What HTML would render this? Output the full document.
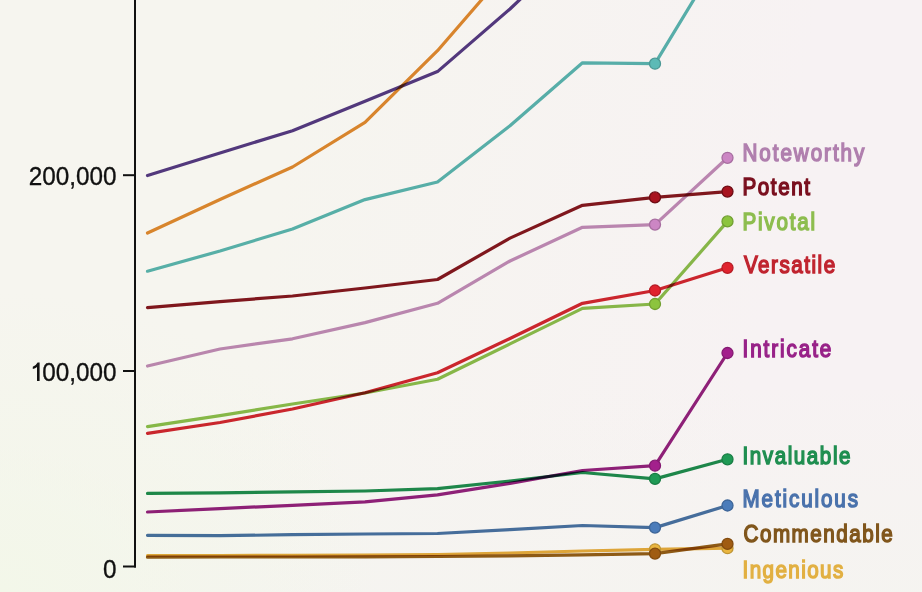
<!DOCTYPE html>
<html><head><meta charset="utf-8"><style>
html,body{margin:0;padding:0;width:922px;height:592px;overflow:hidden;background:#f6f4ef;}
svg{display:block;position:absolute;left:0;top:0;}
.bg{position:absolute;left:0;top:0;width:922px;height:592px;
background:radial-gradient(ellipse 380px 300px at 0px 592px, rgba(243,247,233,1) 0%, rgba(243,247,233,0) 100%), linear-gradient(to bottom, rgba(245,244,240,0) 65%, rgba(245,244,240,0.9) 100%), linear-gradient(100deg, #f6f5ef 30%, #f7f2f3 80%);}
polyline{fill:none;stroke-width:3.2;stroke-linejoin:round;stroke-linecap:round;mix-blend-mode:multiply;}
.lab text{font-family:"Liberation Sans",sans-serif;font-weight:normal;font-size:24.6px;stroke-width:1.5px;paint-order:stroke;}
.ax text{font-family:"Liberation Sans",sans-serif;font-size:26px;fill:#111;stroke:#111;stroke-width:0.35px;}
</style></head><body>
<div class="bg"></div>
<svg width="922" height="592" viewBox="0 0 922 592">
<g class="ax">
<line x1="135" y1="0" x2="135" y2="567.5" stroke="#111" stroke-width="2"/>
<line x1="123" y1="175.2" x2="135" y2="175.2" stroke="#111" stroke-width="2"/>
<line x1="123" y1="371" x2="135" y2="371" stroke="#111" stroke-width="2"/>
<line x1="123" y1="566.5" x2="136" y2="566.5" stroke="#111" stroke-width="2"/>
<text transform="translate(116.5 184.8) scale(0.935 1)" text-anchor="end">200,000</text>
<text transform="translate(116.5 381) scale(0.935 1)" text-anchor="end">00,000</text>
<path d="M39.6 362.6 L39.6 381 L37 381 L37 366.9 Q35.4 368.4 32.8 369 L32.8 366.7 Q36.2 365.6 37.6 362.6 Z" fill="#111"/>
<text transform="translate(116.5 577.7) scale(0.935 1)" text-anchor="end">0</text>
</g>
<g class="lines">
<polyline points="147.5,175.5 220.0,153.0 292.5,130.7 365.0,101.3 437.5,71.6 510.0,9.0 582.5,-60.0 655.0,-130.0 727.5,-200.0" stroke="#553a84" />
<polyline points="147.5,233.0 220.0,199.5 292.5,167.0 365.0,122.3 437.5,50.7 510.0,-33.0 582.5,-120.0 655.0,-200.0 727.5,-280.0" stroke="#e08a2f" />
<polyline points="147.5,271.2 220.0,251.0 292.5,229.0 365.0,199.6 437.5,182.0 510.0,125.7 582.5,62.8 655.0,63.7 727.5,-56.0" stroke="#5ab6b2" />
<circle cx="655.0" cy="63.7" r="5.5" fill="#5cbab6" stroke="#4b9895" stroke-width="1.3" />
<polyline points="147.5,307.7 220.0,301.6 292.5,296.0 365.0,288.0 437.5,279.5 510.0,238.1 582.5,205.3 655.0,197.4 727.5,191.6" stroke="#84181e" />
<circle cx="655.0" cy="197.4" r="5.5" fill="#a8131f" stroke="#6e0c14" stroke-width="1.3" />
<circle cx="727.5" cy="191.6" r="5.5" fill="#a8131f" stroke="#6e0c14" stroke-width="1.3" />
<polyline points="147.5,366.0 220.0,349.0 292.5,338.8 365.0,322.6 437.5,303.3 510.0,261.0 582.5,227.3 655.0,224.6 727.5,157.8" stroke="#c08cb9" />
<circle cx="655.0" cy="224.6" r="5.5" fill="#cc86c4" stroke="#a76da0" stroke-width="1.3" />
<circle cx="727.5" cy="157.8" r="5.5" fill="#cc86c4" stroke="#a76da0" stroke-width="1.3" />
<polyline points="147.5,426.6 220.0,415.7 292.5,404.0 365.0,393.0 437.5,379.3 510.0,343.9 582.5,308.4 655.0,304.0 727.5,221.4" stroke="#8bbf4c" />
<circle cx="655.0" cy="304.0" r="5.5" fill="#8cc43e" stroke="#72a032" stroke-width="1.3" />
<circle cx="727.5" cy="221.4" r="5.5" fill="#8cc43e" stroke="#72a032" stroke-width="1.3" />
<polyline points="147.5,433.3 220.0,422.5 292.5,409.0 365.0,392.8 437.5,372.8 510.0,338.5 582.5,303.3 655.0,290.5 727.5,267.8" stroke="#d2272f" />
<circle cx="655.0" cy="290.5" r="5.5" fill="#e0232e" stroke="#b71c25" stroke-width="1.3" />
<circle cx="727.5" cy="267.8" r="5.5" fill="#e0232e" stroke="#b71c25" stroke-width="1.3" />
<polyline points="147.5,512.0 220.0,508.6 292.5,505.3 365.0,501.9 437.5,494.8 510.0,483.3 582.5,470.5 655.0,465.7 727.5,353.0" stroke="#93217e" />
<circle cx="655.0" cy="465.7" r="5.5" fill="#a3208c" stroke="#851a72" stroke-width="1.3" />
<circle cx="727.5" cy="353.0" r="5.5" fill="#a3208c" stroke="#851a72" stroke-width="1.3" />
<polyline points="147.5,493.4 220.0,492.8 292.5,491.8 365.0,491.0 437.5,488.7 510.0,481.0 582.5,472.5 655.0,478.9 727.5,459.3" stroke="#1f8d4e" />
<circle cx="655.0" cy="478.9" r="5.5" fill="#1f9a55" stroke="#197e45" stroke-width="1.3" />
<circle cx="727.5" cy="459.3" r="5.5" fill="#1f9a55" stroke="#197e45" stroke-width="1.3" />
<polyline points="147.5,535.3 220.0,535.7 292.5,534.7 365.0,534.0 437.5,533.5 510.0,529.6 582.5,525.5 655.0,527.6 727.5,505.5" stroke="#4872a4" />
<circle cx="655.0" cy="527.6" r="5.5" fill="#4b7cba" stroke="#3d6598" stroke-width="1.3" />
<circle cx="727.5" cy="505.5" r="5.5" fill="#4b7cba" stroke="#3d6598" stroke-width="1.3" />
<polyline points="147.5,555.5 220.0,555.5 292.5,555.3 365.0,555.0 437.5,554.5 510.0,553.0 582.5,551.0 655.0,549.3 727.5,548.2" stroke="#e6ad3c" />
<circle cx="655.0" cy="549.3" r="5.5" fill="#eab640" stroke="#bf9534" stroke-width="1.3" />
<circle cx="727.5" cy="548.2" r="5.5" fill="#eab640" stroke="#bf9534" stroke-width="1.3" />
<polyline points="147.5,557.2 220.0,557.0 292.5,557.0 365.0,556.8 437.5,556.5 510.0,555.8 582.5,554.8 655.0,553.6 727.5,543.9" stroke="#935e16" />
<circle cx="655.0" cy="553.6" r="5.5" fill="#a05c12" stroke="#834b0e" stroke-width="1.3" />
<circle cx="727.5" cy="543.9" r="5.5" fill="#a05c12" stroke="#834b0e" stroke-width="1.3" />
</g>
<g class="lab">
<text transform="translate(742.5 195.2) scale(0.84 1)" fill="#7a0f1e" stroke="#7a0f1e" textLength="80.36" lengthAdjust="spacing">Potent</text>
<text transform="translate(742.5 160.9) scale(0.84 1)" fill="#b07fae" stroke="#b07fae" textLength="145.00" lengthAdjust="spacing">Noteworthy</text>
<text transform="translate(742.5 229.5) scale(0.84 1)" fill="#8dbd4e" stroke="#8dbd4e" textLength="86.31" lengthAdjust="spacing">Pivotal</text>
<text transform="translate(744.0 272.8) scale(0.84 1)" fill="#c0242f" stroke="#c0242f" textLength="108.57" lengthAdjust="spacing">Versatile</text>
<text transform="translate(742.5 357.1) scale(0.84 1)" fill="#982288" stroke="#982288" textLength="105.71" lengthAdjust="spacing">Intricate</text>
<text transform="translate(742.5 464.2) scale(0.84 1)" fill="#1f8e50" stroke="#1f8e50" textLength="128.57" lengthAdjust="spacing">Invaluable</text>
<text transform="translate(742.5 507) scale(0.84 1)" fill="#4a72ac" stroke="#4a72ac" textLength="137.50" lengthAdjust="spacing">Meticulous</text>
<text transform="translate(742.5 577.6) scale(0.84 1)" fill="#e2b042" stroke="#e2b042" textLength="120.00" lengthAdjust="spacing">Ingenious</text>
<text transform="translate(743.5 542.2) scale(0.84 1)" fill="#80561c" stroke="#80561c" textLength="177.74" lengthAdjust="spacing">Commendable</text>
</g>
</svg>
</body></html>
